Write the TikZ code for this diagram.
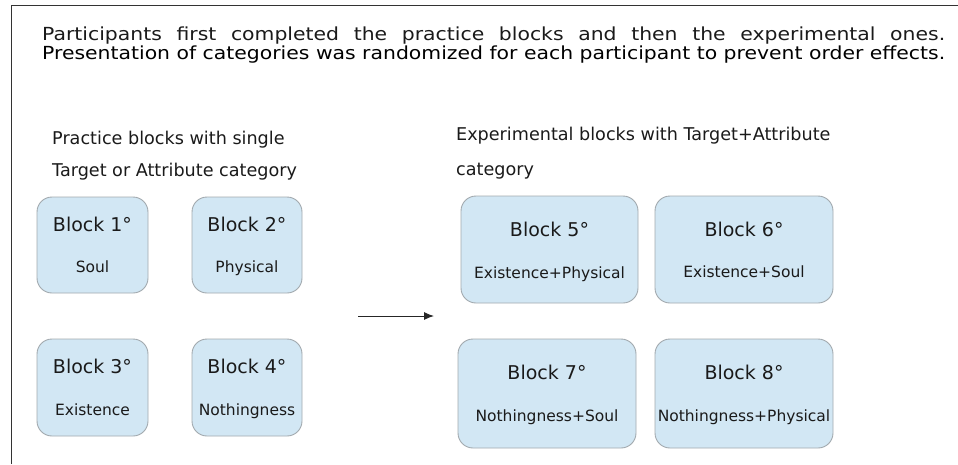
\documentclass[tikz,border=0pt]{standalone}
\usepackage{fontspec}
\setmainfont{DejaVu Sans}
\usetikzlibrary{arrows.meta}
\definecolor{boxfill}{HTML}{D2E7F4}
\definecolor{boxline}{HTML}{A2A9AE}
\definecolor{txt}{HTML}{1A1A1A}
\newsavebox\lineB
\tikzset{
  blk/.style={draw=boxline, fill=boxfill, line width=0.9pt, rounded corners=15pt, inner sep=0pt},
  ttl/.style={anchor=base, font=\fontsize{19}{19}\selectfont, text=txt, inner sep=0pt},
  sub/.style={anchor=base, font=\fontsize{15.5}{15.5}\selectfont, text=txt, inner sep=0pt},
  hdr/.style={anchor=base west, font=\fontsize{17.6}{17.6}\selectfont, text=txt, inner sep=0pt},
  title/.style={anchor=base west, text=txt, inner sep=0pt}
}
\begin{document}
\sbox\lineB{\fontsize{18}{18}\selectfont Presentation of categories was randomized for each participant to prevent order effects.}%
\pgfmathsetmacro\tsx{903/\the\wd\lineB}%
\begin{tikzpicture}[x=1pt,y=-1pt]
\useasboundingbox (0,0) rectangle (958,464);
\draw[line width=1pt, black!80] (11,464) -- (11,5) -- (958,5);
\node[title] (t1) at (42,40.5) {\scalebox{\tsx}[1]{\makebox[\wd\lineB][s]{\fontsize{18}{18}\selectfont Participants first completed the practice blocks and then the experimental ones.}}};
\node[title] (t2) at (42,59.5) {\scalebox{\tsx}[1]{\usebox\lineB}};
\node[hdr] (h1) at (52,144) {Practice blocks with single};
\node[hdr] (h2) at (52,176.5) {Target or Attribute category};
\node[hdr] (h3) at (456,140.5) {Experimental blocks with Target+Attribute};
\node[hdr] (h4) at (456,175.5) {category};
% practice blocks
\path[blk] (37,197) rectangle (148,293);
\path[blk] (192,197) rectangle (302,293);
\path[blk] (37,339) rectangle (148,436);
\path[blk] (192,339) rectangle (302,436);
\node[ttl] (b1) at (92.5,231) {Block 1°};
\node[sub] (s1) at (92.5,272.5) {Soul};
\node[ttl] (b2) at (247,231) {Block 2°};
\node[sub] (s2) at (247,272.5) {Physical};
\node[ttl] (b3) at (92.5,373) {Block 3°};
\node[sub] (s3) at (92.5,415) {Existence};
\node[ttl] (b4) at (247,373) {Block 4°};
\node[sub] (s4) at (247,415) {Nothingness};
% experimental blocks
\path[blk] (461,196) rectangle (638,303);
\path[blk] (655,196) rectangle (833,303);
\path[blk] (458,339) rectangle (636,448);
\path[blk] (655,339) rectangle (833,448);
\node[ttl] (b5) at (549.5,236) {Block 5°};
\node[sub] (s5) at (549.5,278) {Existence+Physical};
\node[ttl] (b6) at (744,236) {Block 6°};
\node[sub] (s6) at (744,277) {Existence+Soul};
\node[ttl] (b7) at (547,379) {Block 7°};
\node[sub] (s7) at (547,421) {Nothingness+Soul};
\node[ttl] (b8) at (744,379) {Block 8°};
\node[sub] (s8) at (744,421) {Nothingness+Physical};
\coordinate (a1) at (358,316);
\coordinate (a2) at (434,316);
\draw[-{Latex[length=10pt,width=8pt]}, line width=1pt, black!85] (a1) -- (a2);
\end{tikzpicture}
\end{document}
